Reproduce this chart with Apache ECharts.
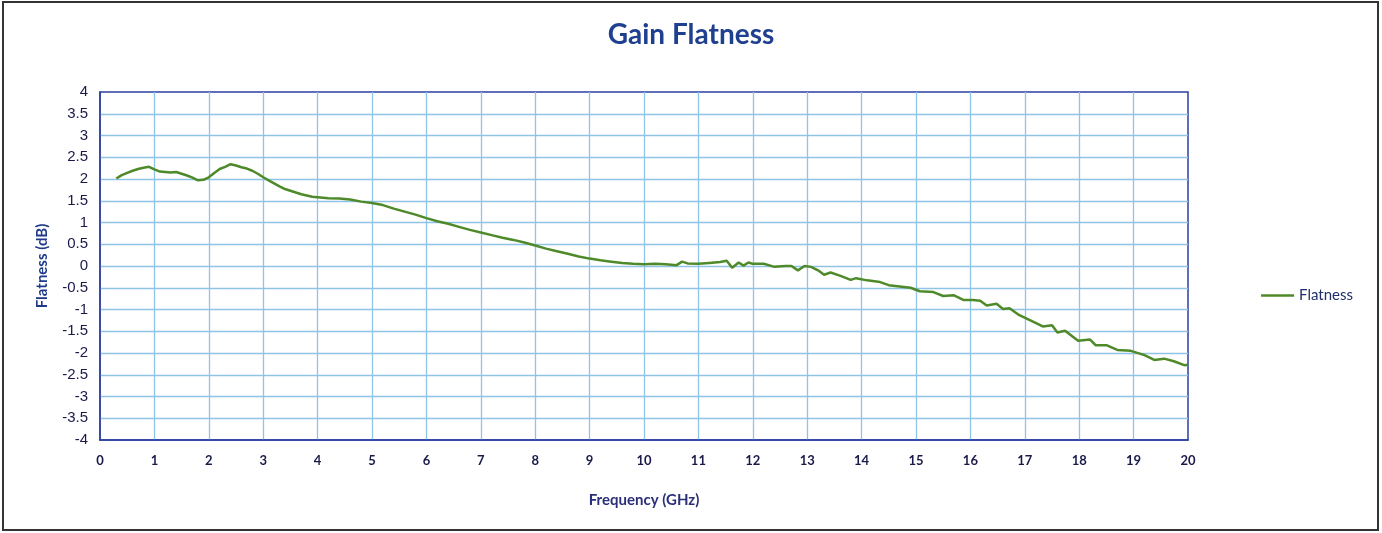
<!DOCTYPE html>
<html><head><meta charset="utf-8">
<script src="https://cdn.jsdelivr.net/npm/echarts@6/dist/echarts.min.js"></script>
<style>html,body{margin:0;padding:0;background:#fff}#c{width:1382px;height:533px}</style>
</head><body><div id="c"></div>
<script>
const title = 'Gain Flatness';
const seriesName = 'Flatness';
const xAxisName = 'Frequency (GHz)';
const yAxisName = 'Flatness (dB)';
const freqGHz = [0.3,0.4,0.5,0.6,0.7,0.8,0.9,1.0,1.1,1.2,1.3,1.4,1.5,1.6,1.7,1.8,1.9,2.0,2.1,2.2,2.3,2.4,2.5,2.6,2.7,2.8,2.9,3.0,3.1,3.2,3.3,3.4,3.5,3.6,3.7,3.8,3.9,4.0,4.2,4.4,4.6,4.8,5.0,5.2,5.4,5.6,5.8,6.0,6.2,6.4,6.6,6.8,7.0,7.2,7.4,7.6,7.8,8.0,8.2,8.4,8.6,8.8,9.0,9.2,9.4,9.6,9.8,10.0,10.2,10.4,10.6,10.7,10.8,11.0,11.2,11.4,11.52,11.62,11.74,11.83,11.92,12.0,12.2,12.4,12.6,12.71,12.83,12.95,13.07,13.2,13.31,13.43,13.6,13.8,13.9,14.1,14.34,14.5,14.7,14.9,15.07,15.32,15.5,15.69,15.87,16.05,16.18,16.3,16.48,16.6,16.72,16.9,17.15,17.33,17.5,17.6,17.74,17.98,18.2,18.3,18.5,18.7,18.95,19.2,19.38,19.56,19.74,19.93,20.0];
const flatnessDb = [2.01,2.09,2.14,2.19,2.23,2.26,2.28,2.22,2.17,2.16,2.15,2.16,2.12,2.08,2.03,1.97,1.98,2.04,2.14,2.23,2.28,2.34,2.31,2.27,2.24,2.19,2.12,2.04,1.97,1.90,1.83,1.77,1.73,1.69,1.65,1.62,1.59,1.58,1.56,1.55,1.53,1.48,1.45,1.40,1.32,1.25,1.18,1.10,1.03,0.97,0.90,0.83,0.77,0.71,0.65,0.60,0.54,0.47,0.40,0.34,0.28,0.22,0.17,0.13,0.10,0.07,0.05,0.04,0.05,0.04,0.02,0.10,0.06,0.05,0.07,0.09,0.12,-0.04,0.08,0.01,0.08,0.05,0.05,-0.02,0.0,0.0,-0.1,0.0,-0.02,-0.1,-0.2,-0.15,-0.22,-0.32,-0.28,-0.33,-0.37,-0.44,-0.47,-0.50,-0.58,-0.6,-0.69,-0.67,-0.78,-0.78,-0.8,-0.91,-0.87,-0.99,-0.97,-1.13,-1.28,-1.39,-1.36,-1.53,-1.49,-1.72,-1.69,-1.82,-1.82,-1.93,-1.95,-2.05,-2.16,-2.13,-2.19,-2.28,-2.27];

const chart = echarts.init(document.getElementById('c'), null, {renderer:'canvas'});
chart.setOption({
  backgroundColor:'#fff',
  animation:false,
  title:{text:title,left:'center',top:16,textStyle:{fontFamily:'Lato',fontWeight:'bold',fontSize:28,color:'#1f3f8f'}},
  legend:{data:[{name:seriesName,icon:'path://M0,0 L1,0 L1,0.08 L0,0.08 Z'}],right:24,top:283,orient:'vertical',itemWidth:33,itemHeight:3,itemGap:4,
    textStyle:{fontFamily:'Lato',fontSize:15,color:'#1f2f6a'}},
  graphic:[{type:'rect',shape:{x:3,y:2,width:1375,height:528},style:{fill:'none',stroke:'#333',lineWidth:2},silent:true}],
  grid:{left:100,right:194,top:92,bottom:93,show:true,borderColor:'#2b3fa0',borderWidth:1.5},
  xAxis:{type:'value',min:0,max:20,interval:1,name:xAxisName,nameLocation:'middle',nameGap:53,
    nameTextStyle:{fontFamily:'Lato',fontWeight:'bold',fontSize:15,color:'#2a2f7a'},
    axisLine:{show:true,onZero:false,lineStyle:{color:'#2b3fa0',width:1.5}},axisTick:{show:false},
    axisLabel:{fontFamily:'Lato',fontWeight:'bold',fontSize:13,color:'#1a1a4a',margin:14},
    splitLine:{show:true,showMinLine:false,showMaxLine:false,lineStyle:{color:'#8fc4e6',width:1.3}}},
  yAxis:{type:'value',min:-4,max:4,interval:0.5,name:yAxisName,nameLocation:'middle',nameGap:50,
    nameTextStyle:{fontFamily:'Lato',fontWeight:'bold',fontSize:15,color:'#1f3a8a'},
    axisLine:{show:true,onZero:false,lineStyle:{color:'#2b3fa0',width:1.5}},axisTick:{show:false},
    axisLabel:{fontFamily:'Liberation Sans',fontSize:15,color:'#1a1a4a',margin:12},
    splitLine:{show:true,showMinLine:false,showMaxLine:false,lineStyle:{color:'#8fc4e6',width:1.3}}},
  series:[{name:seriesName,type:'line',showSymbol:false,smooth:false,
    data:freqGHz.map((f,i)=>[f,flatnessDb[i]]),
    lineStyle:{color:'#4f8a2a',width:2.5},itemStyle:{color:'#4f8a2a'}}]
});
</script></body></html>
